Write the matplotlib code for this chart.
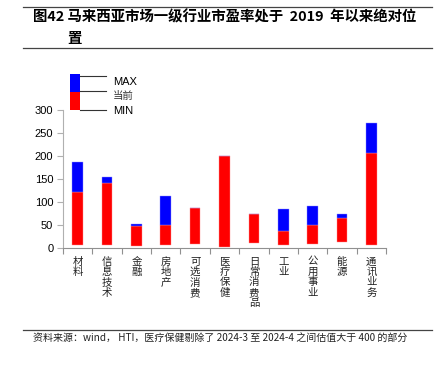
import matplotlib
matplotlib.use("Agg")
import matplotlib.pyplot as plt
from matplotlib.lines import Line2D
from matplotlib.patches import Rectangle

categories = ['材料', '信息技术', '金融', '房地产', '可选消费', '医疗保健',
              '日常消费品', '工业', '公用事业', '能源', '通讯业务']
min_vals = [7, 6.5, 6, 7, 8.7, 3.5, 10.8, 7.8, 9.3, 14.3, 6.5]
cur_vals = [122.5, 141, 48, 51, 86.6, 200.4, 75, 37.4, 49.8, 65.6, 207]
max_vals = [187.5, 153.6, 52, 114, 86.6, 200.4, 75, 85, 91, 75, 272]
yticks = [0, 50, 100, 150, 200, 250, 300]

W, H = 435, 368
fig = plt.figure(figsize=(W / 100, H / 100), dpi=100)

def fx(px):
    return px / W

def fy(py):
    return 1 - py / H

cjk = ['Noto Sans CJK SC', 'DejaVu Sans']
lat = ['Liberation Sans', 'Noto Sans CJK SC']

# axes
left, right, top, bottom = 63, 386, 109.7, 248.3
ax = fig.add_axes([fx(left), fy(bottom), fx(right - left), (bottom - top) / H])
n = len(categories)
x = list(range(n))
red_h = [c - m for c, m in zip(cur_vals, min_vals)]
blue_h = [mx - c for mx, c in zip(max_vals, cur_vals)]
bw = 0.36
ax.bar(x, red_h, bottom=min_vals, width=bw, color='#FF0000', edgecolor='#FF9090', linewidth=0.3)
ax.bar(x, blue_h, bottom=cur_vals, width=bw, color='#0000FF', edgecolor='#9090FF', linewidth=0.3)
ax.set_xlim(-0.5, n - 0.5)
ax.set_ylim(0, 300)
ax.set_yticks(yticks)
ax.set_yticklabels([str(v) for v in yticks], fontfamily=lat, fontsize=8)
ax.set_xticks([i - 0.5 for i in range(n + 1)])
ax.set_xticklabels([])
for s in ['top', 'right']:
    ax.spines[s].set_visible(False)
ax.spines['left'].set_color('#b0b0b0')
ax.spines['bottom'].set_color('#909090')
ax.spines['left'].set_linewidth(0.8)
ax.spines['bottom'].set_linewidth(0.8)
ax.tick_params(axis='y', colors='#b0b0b0', length=4, width=0.8, labelcolor='black', pad=3)
ax.tick_params(axis='x', colors='#909090', length=4, width=0.8)

for i, c in enumerate(categories):
    ax.text(i, -0.06, '\n'.join(c), transform=ax.get_xaxis_transform(),
            ha='center', va='top', fontsize=7.5, fontfamily=cjk, linespacing=1.05,
            color='#222222')

# legend (figure coordinates)
fig.add_artist(Rectangle((fx(70), fy(91.7)), fx(10), (91.7 - 74) / H,
                         transform=fig.transFigure, color='#0000FF', lw=0))
fig.add_artist(Rectangle((fx(70), fy(110)), fx(10), (110 - 91.7) / H,
                         transform=fig.transFigure, color='#FF0000', lw=0))
for yy in [75.7, 91, 110]:
    fig.add_artist(Line2D([fx(80), fx(106)], [fy(yy), fy(yy)], transform=fig.transFigure,
                          color='#333333', lw=0.8))
fig.text(fx(113), fy(82), 'MAX', fontsize=8, fontfamily=lat, va='center', ha='left')
fig.text(fx(113), fy(96.5), '当前', fontsize=7.5, fontfamily=cjk, va='center', ha='left', color='#333333')
fig.text(fx(113), fy(110.5), 'MIN', fontsize=8, fontfamily=lat, va='center', ha='left')

# title and rules
fig.add_artist(Line2D([fx(23), fx(432)], [fy(6.7), fy(6.7)], transform=fig.transFigure,
                      color='#444444', lw=0.9))
fig.add_artist(Line2D([fx(23), fx(432)], [fy(48.3), fy(48.3)], transform=fig.transFigure,
                      color='#444444', lw=0.9))
fig.text(fx(33), fy(17), '图42 马来西亚市场一级行业市盈率处于  2019  年以来绝对位',
         fontsize=10.4, fontweight='bold', fontfamily=cjk, va='center', ha='left')
fig.text(fx(67), fy(39), '置', fontsize=10.4, fontweight='bold', fontfamily=cjk,
         va='center', ha='left')

# source
fig.add_artist(Line2D([fx(23), fx(432)], [fy(330), fy(330)], transform=fig.transFigure,
                      color='#444444', lw=0.9))
fig.text(fx(33), fy(338), '资料来源：wind， HTI，医疗保健剔除了 2024-3 至 2024-4 之间估值大于 400 的部分',
         fontsize=7.2, fontfamily=cjk, va='center', ha='left', color='#222222')

fig.savefig('out.png', dpi=100)
